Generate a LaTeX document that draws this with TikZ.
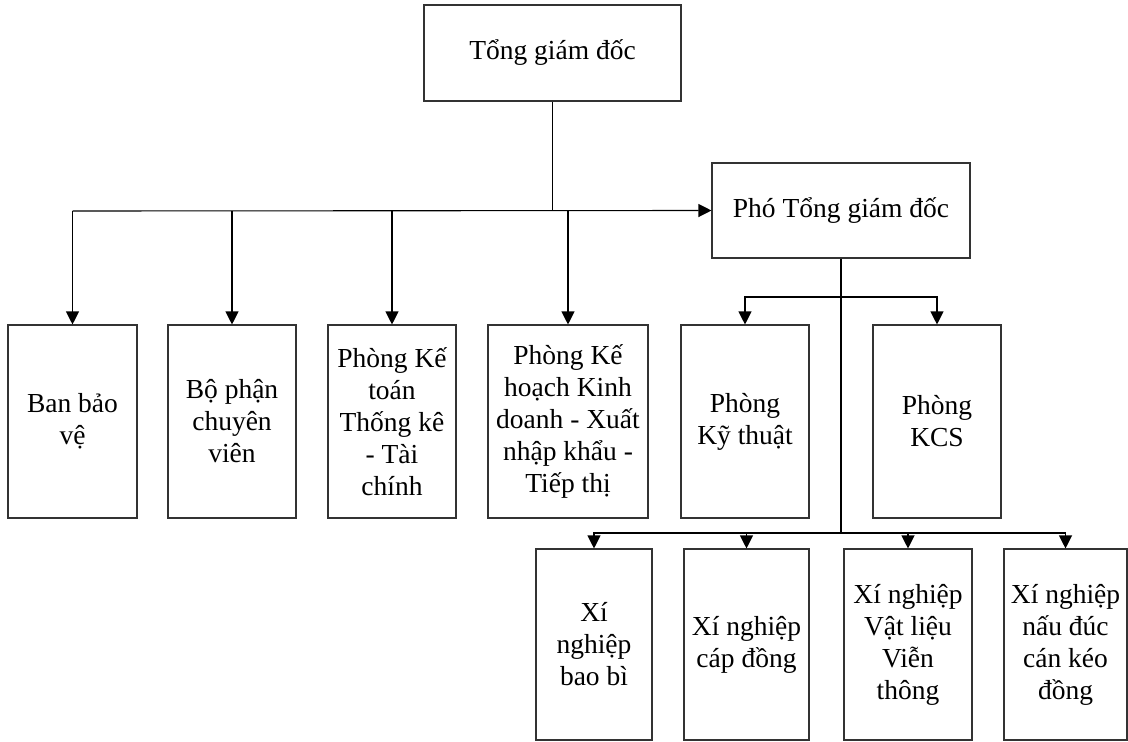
\documentclass[tikz,border=0pt]{standalone}
\usepackage{fontspec}
\setmainfont{Liberation Serif}
\usetikzlibrary{positioning,arrows.meta}
\tikzset{
  box/.style 2 args={draw=black!80, line width=1.1pt, align=center, inner sep=2pt, minimum width=#1, minimum height=#2, font=\fontsize{27.5}{32}\selectfont},
  rowbox/.style={box={#1}{193pt}},
  rowbox/.default=128pt,
  lowbox/.style={box={#1}{191pt}},
  lowbox/.default=128pt,
  arr/.style={-{Triangle[length=13pt, width=13pt]}, line width=1.1pt},
  ln/.style={line width=1.1pt},
}
\begin{document}
\begin{tikzpicture}[x=1pt, y=-1pt]
  \useasboundingbox (0,0) rectangle (1128,742);
  \node[box={257pt}{96pt}] (tgd) at (552.5,53) {Tổng giám đốc};
  \node[box={258pt}{95pt}] (pho) at (841,210.5) {Phó Tổng giám đốc};
  \node[rowbox=129pt] (bbv) at (72.5,421.5) {Ban bảo\\ vệ};
  \node[rowbox] (bpcv) at (232,421.5) {Bộ phận\\ chuyên\\ viên};
  \node[rowbox] (pktk) at (392,421.5) {Phòng Kế\\ toán\\ Thống kê\\ - Tài\\ chính};
  \node[rowbox=160pt] (pkh) at (568,421.5) {Phòng Kế\\ hoạch Kinh\\ doanh - Xuất\\ nhập khẩu -\\ Tiếp thị};
  \node[rowbox] (pkt) at (745,421.5) {Phòng\\ Kỹ thuật};
  \node[rowbox] (kcs) at (937,421.5) {Phòng\\ KCS};
  \node[lowbox=116pt] (xnbb) at (594,644.5) {Xí\\ nghiệp\\ bao bì};
  \node[lowbox=125pt] (xncd) at (746.5,644.5) {Xí nghiệp\\ cáp đồng};
  \node[lowbox] (xnvl) at (908,644.5) {Xí nghiệp\\ Vật liệu\\ Viễn\\ thông};
  \node[lowbox=123pt] (xnnd) at (1065.5,644.5) {Xí nghiệp\\ nấu đúc\\ cán kéo\\ đồng};
  \coordinate (jn) at (552.5,211);
  \coordinate (pj) at (841,297);
  \coordinate (pj2) at (841,533);
  \draw[ln] (tgd) -- (jn); \draw[arr] (bbv.north |- jn) -- (pho.west);
  \foreach \n in {bbv,bpcv,pktk,pkh} \draw[arr] (\n.north |- jn) -- (\n.north);
  \draw[ln] (pho) -- (pj2);
  \draw[arr] (pj) -| (pkt.north); \draw[arr] (pj) -| (kcs.north);
  \foreach \n in {xnbb,xncd,xnvl,xnnd} \draw[arr] (pj2) -| (\n.north);
\end{tikzpicture}
\end{document}
